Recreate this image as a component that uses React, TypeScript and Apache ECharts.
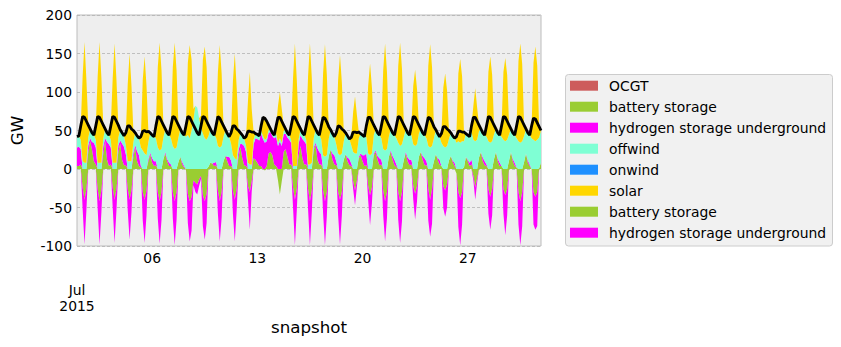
import React, { useEffect, useRef } from 'react';
import * as echarts from 'echarts';

// 3-hourly snapshots (00,03,...,21 UTC), one row per day, July 1..31 2015
const snapshotHours = ['00', '03', '06', '09', '12', '15', '18', '21'];
const xTickDayOffsets = [5, 12, 19, 26];
const xTickLabels = ['06', '13', '20', '27'];
const xStartLabel = 'Jul\n2015';
const yMin = -100;
const yMax = 200;
const yStep = 50;

const ocgt = [
  [0,0,0,0,0,0,0,0],[0,0,0,0,0,0,0,0],[0,0,0,0,0,0,0,0],[0,0,0,0,0,0,0,0],[0,0,0,0,0,0,0,0],
  [0,0,0,0,0,0,0,0],[0,0,0,0,0,0,0,0],[0,0,0,0,0,0,0,0],[0,0,0,0,0,0,0,0],[0,0,0,0,0,0,0,0],
  [0,0,0,0,0,0,0,0],[0,0,0,0,0,0,0,0],[0,0,0,0,0,0,0,0],[0,0,0,0,0,0,0,0],[0,0,0,0,0,0,0,0],
  [0,0,0,0,0,0,0,0],[0,0,0,0,0,0,0,0],[0,0,0,0,0,0,0,0],[0,0,0,0,0,0,0,0],[0,0,0,0,0,0,0,0],
  [0,0,0,0,0,0,0,0],[0,0,0,0,0,0,0,0],[0,0,0,0,0,0,0,0],[0,0,0,0,0,0,0,0],[0,0,0,0,0,0,0,0],
  [0,0,0,0,0,0,0,0],[0,0,0,0,0,0,0,0],[0,0,0,0,0,0,0,0],[0,0,0,0,0,0,0,0],[0,0,0,0,0,0,0,0],
  [0,0,0,0,0,0,0,0],
];

const batteryDischarge = [
  [4,4,6,0,0,0,22,36],[25,10,6,0,0,0,20,36],[12,4,6,0,0,0,22,33],[12,5,5,0,0,0,15,28],[10,4,2,0,0,0,10,19],
  [8,4,5,0,0,0,13,20],[10,4,4,0,0,0,9,16],[6,2,0,0,0,0,0,0],[0,0,0,0,0,0,3,8],[7,4,5,0,0,0,10,17],
  [10,4,4,0,0,0,16,28],[14,5,4,0,0,0,14,12],[8,4,4,0,0,4,20,22],[18,6,4,0,0,0,22,26],[16,6,6,0,0,0,18,30],
  [14,6,6,0,0,0,24,32],[12,6,6,0,0,0,17,25],[12,6,5,0,0,0,12,19],[10,5,4,0,0,0,14,18],[10,4,5,0,0,0,18,22],
  [12,5,6,0,0,0,16,22],[12,5,3,0,0,0,12,20],[10,5,6,0,0,0,16,22],[12,5,5,0,0,0,10,19],[12,6,4,0,0,0,11,17],
  [9,4,0,0,0,0,2,16],[10,4,6,0,0,0,15,22],[10,5,4,0,0,0,13,22],[10,4,4,0,0,0,11,22],[10,4,2,0,0,0,9,20],
  [8,4,0,0,0,0,1,8],
];

const hydrogenDischarge = [
  [24,25,20,0,0,0,9,4],[10,24,22,0,0,0,10,4],[23,28,22,0,0,0,9,4],[21,24,14,0,0,0,6,3],[13,14,2,0,0,0,3,2],
  [6,6,5,0,0,0,0,2],[3,4,2,0,0,0,0,0],[3,2,0,0,0,0,0,0],[0,0,0,0,0,0,0,0],[0,4,4,0,0,0,0,0],
  [6,12,7,0,0,0,9,5],[18,25,18,0,0,0,18,28],[31,33,42,39,34,32,27,26],[25,34,38,30,36,30,23,20],[25,32,28,0,0,0,15,14],
  [25,30,26,0,0,0,4,2],[15,16,13,0,0,0,0,0],[8,12,5,0,0,0,0,0],[5,8,3,0,0,0,2,2],[8,14,15,0,0,0,2,2],
  [5,9,6,0,0,0,0,2],[5,7,3,0,0,0,0,2],[5,7,6,0,0,0,0,0],[5,9,5,0,0,0,0,0],[2,6,0,0,0,0,0,0],
  [2,4,0,0,0,0,0,0],[2,4,6,0,0,0,0,0],[5,5,2,0,0,0,0,0],[3,4,0,0,0,0,0,0],[3,4,0,0,0,0,0,0],
  [3,2,0,0,0,0,0,0],
];

const offwind = [
  [14,14,12,10,8,8,10,12],[12,10,10,8,8,8,10,12],[12,12,10,8,8,8,10,14],[14,14,12,10,10,10,14,16],[20,22,24,24,20,18,22,26],
  [30,32,30,28,24,26,28,30],[34,36,34,30,26,28,32,36],[38,40,42,44,40,50,64,82],[80,66,54,46,40,38,40,44],[40,36,32,30,28,30,32,34],
  [30,26,22,18,14,12,12,14],[12,10,8,8,6,6,6,6],[6,6,4,4,4,4,4,4],[4,4,4,4,4,4,4,6],[6,6,4,4,4,4,6,8],
  [8,8,6,6,6,8,12,18],[20,22,20,18,16,18,22,26],[26,24,22,20,18,20,24,28],[28,26,24,22,20,20,24,26],[26,24,22,20,18,20,24,28],
  [30,30,28,26,24,26,26,28],[30,32,34,34,30,32,30,30],[32,32,32,32,30,32,30,30],[30,30,30,30,28,30,30,32],[32,30,30,30,28,30,28,30],
  [32,32,34,36,34,36,34,30],[32,34,36,38,36,38,34,30],[32,34,36,36,34,36,32,30],[34,36,38,38,36,38,34,30],[34,36,38,36,34,36,34,32],
  [36,38,40,38,36,38,40,42],
];

const onwind = [
  [0,0,0,0,0,0,0,0],[0,0,0,0,0,0,0,0],[0,0,0,0,0,0,0,0],[0,0,0,0,0,0,0,0],[0,0,0,0,0,0,0,0],
  [0,0,0,0,0,0,0,0],[0,0,0,0,0,0,0,0],[0,0,0,0,0,0,0,0],[0,0,0,0,0,0,0,0],[0,0,0,0,0,0,0,0],
  [0,0,0,0,0,0,0,0],[0,0,0,0,0,0,0,0],[0,0,0,0,0,0,0,0],[0,0,0,0,0,0,0,0],[0,0,0,0,0,0,0,0],
  [0,0,0,0,0,0,0,0],[0,0,0,0,0,0,0,0],[0,0,0,0,0,0,0,0],[0,0,0,0,0,0,0,0],[0,0,0,0,0,0,0,0],
  [0,0,0,0,0,0,0,0],[0,0,0,0,0,0,0,0],[0,0,0,0,0,0,0,0],[0,0,0,0,0,0,0,0],[0,0,0,0,0,0,0,0],
  [0,0,0,0,0,0,0,0],[0,0,0,0,0,0,0,0],[0,0,0,0,0,0,0,0],[0,0,0,0,0,0,0,0],[0,0,0,0,0,0,0,0],
  [0,0,0,0,0,0,0,0],
];

const solar = [
  [0,0,18,110,157,108,16,0],[0,0,18,112,157,110,17,0],[0,0,18,110,155,108,16,0],[0,0,16,100,140,98,15,0],[0,0,14,92,126,90,14,0],
  [0,0,16,104,140,102,16,0],[0,0,16,102,138,100,16,0],[0,0,15,94,121,92,14,0],[0,0,15,96,119,94,14,0],[0,0,15,96,133,94,14,0],
  [0,0,14,96,136,94,13,0],[0,0,12,80,120,72,10,0],[0,0,6,24,30,22,6,0],[0,0,10,48,60,44,8,0],[0,0,18,114,159,112,18,0],
  [0,0,18,114,157,110,17,0],[0,0,17,106,146,104,16,0],[0,0,15,96,130,92,14,0],[0,0,10,52,74,50,8,0],[0,0,14,88,119,86,13,0],
  [0,0,16,102,139,100,15,0],[0,0,16,100,134,98,15,0],[0,0,12,76,99,72,11,0],[0,0,16,104,134,102,15,0],[0,0,12,76,96,72,11,0],
  [0,0,14,88,109,84,12,0],[0,0,8,44,69,42,8,0],[0,0,14,90,112,86,12,0],[0,0,14,88,108,84,12,0],[0,0,16,104,129,100,14,0],
  [0,0,16,100,123,96,14,0],
];

const batteryCharge = [
  [0,0,0,-24,-40,-26,0,0],[0,0,0,-26,-42,-28,0,0],[0,0,0,-24,-40,-26,0,0],[0,0,0,-26,-40,-28,0,0],[0,0,0,-30,-40,-28,0,0],
  [0,0,0,-30,-42,-30,0,0],[0,0,0,-30,-42,-30,0,0],[0,0,-1,-32,-42,-36,-15,-18],[-20,-14,-9,-34,-42,-32,0,0],[0,0,0,-28,-42,-30,0,0],
  [0,0,0,-28,-40,-26,0,0],[0,0,0,-22,-30,-16,0,0],[0,0,0,0,-2,0,0,0],[0,0,0,-15,-33,-16,0,0],[0,0,0,-24,-40,-26,0,0],
  [0,0,0,-26,-42,-28,0,0],[0,0,0,-28,-42,-30,0,0],[0,0,0,-30,-40,-30,0,0],[0,0,0,-16,-28,-15,0,0],[0,0,0,-22,-34,-24,0,0],
  [0,0,0,-28,-42,-30,0,0],[0,0,0,-30,-42,-30,0,0],[0,0,0,-22,-32,-22,0,0],[0,0,0,-26,-40,-26,0,0],[0,0,0,-22,-28,-20,0,0],
  [0,0,-6,-30,-38,-30,0,0],[0,0,0,-9,-24,-12,0,0],[0,0,0,-26,-36,-26,0,0],[0,0,0,-26,-34,-26,0,0],[0,0,0,-30,-42,-30,0,0],
  [0,0,0,-30,-36,-30,0,0],
];

const hydrogenCharge = [
  [0,0,0,-28,-58,-28,0,0],[0,0,0,-26,-56,-28,0,0],[0,0,0,-26,-56,-28,0,0],[0,0,0,-28,-52,-28,0,0],[0,0,0,-37,-56,-32,0,0],
  [0,0,0,-34,-55,-36,0,0],[0,0,0,-34,-57,-36,0,0],[0,0,0,-38,-52,-44,-6,-12],[-13,-8,-4,-40,-50,-38,0,0],[0,0,0,-30,-52,-33,0,0],
  [0,0,0,-30,-54,-28,0,0],[0,0,0,-17,-49,-14,0,0],[0,0,0,0,0,0,0,0],[0,0,0,0,0,0,0,0],[0,0,0,-26,-59,-28,0,0],
  [0,0,0,-26,-57,-28,0,0],[0,0,0,-29,-57,-31,0,0],[0,0,0,-30,-58,-30,0,0],[0,0,0,-10,-19,-8,0,0],[0,0,0,-19,-39,-20,0,0],
  [0,0,0,-32,-52,-34,0,0],[0,0,0,-36,-54,-38,0,0],[0,0,0,-18,-34,-20,0,0],[0,0,0,-41,-48,-45,0,0],[0,0,0,-29,-34,-30,0,0],
  [0,0,0,-45,-61,-42,0,0],[0,0,0,-6,-16,-6,0,0],[0,0,0,-32,-43,-34,0,0],[0,0,0,-32,-52,-34,0,0],[0,0,0,-42,-57,-44,0,0],
  [0,0,0,-42,-43,-44,0,0],
];

const load = [
  [42,43,56,68,67,62,57,52],[47,44,56,68,67,62,57,52],[47,44,56,68,67,62,57,51],[47,43,47,56,56,52,50,47],[43,40,42,49,50,48,49,47],
  [44,42,56,68,67,62,57,52],[47,44,56,68,67,62,57,52],[47,44,56,68,67,62,57,52],[47,44,56,68,67,62,57,52],[47,44,56,68,66,61,56,51],
  [46,42,47,56,56,52,50,47],[44,40,42,49,49,48,48,46],[45,43,56,67,66,62,57,52],[47,44,56,67,67,62,57,52],[47,44,56,68,67,62,57,52],
  [47,44,56,68,67,62,57,52],[47,44,56,67,66,61,55,51],[46,42,47,56,55,52,50,47],[43,39,41,48,48,47,48,46],[44,42,56,67,67,62,57,52],
  [47,44,56,68,67,62,57,52],[47,44,56,68,67,62,57,52],[47,44,56,68,67,62,57,52],[47,44,56,67,66,61,55,51],[46,42,46,55,55,52,50,47],
  [43,40,42,49,49,48,48,46],[44,42,56,67,67,62,57,52],[47,44,56,68,67,62,57,52],[47,44,56,68,67,62,57,52],[47,44,56,68,67,62,57,52],
  [47,44,56,66,65,60,55,50],
];

const legendNames = [
  'OCGT', 'battery storage', 'hydrogen storage underground', 'offwind',
  'onwind', 'solar', 'battery storage', 'hydrogen storage underground',
];
const legendColors = ['#cd5c5c', '#9acd32', '#ff00ff', '#7fffd4', '#1e90ff', '#ffd700', '#9acd32', '#ff00ff'];

const FONT = 'DejaVu Sans';
const perDay = snapshotHours.length;

export default function App() {
  const ref = useRef<HTMLDivElement>(null);
  useEffect(() => {
    document.body.style.margin = '0';
    const chart = echarts.init(ref.current!, null, { renderer: 'svg' });

    const snapshots: string[] = [];
    load.forEach((_row, d) => {
      snapshotHours.forEach((h) => {
        snapshots.push(`2015-07-${String(d + 1).padStart(2, '0')} ${h}:00`);
      });
    });

    const area = (name: string, rows: number[][], color: string, stack: string) => ({
      name,
      type: 'line',
      stack,
      stackStrategy: 'all',
      data: rows.flat(),
      symbol: 'none',
      showSymbol: false,
      lineStyle: { width: 0 },
      areaStyle: { color, opacity: 1 },
      itemStyle: { color },
      silent: true,
    });

    const legendGraphics: any[] = [
      {
        type: 'rect',
        shape: { x: 565.5, y: 74.5, width: 267, height: 171.5, r: 3 },
        style: { fill: '#f1f1f1', stroke: '#cccccc', lineWidth: 1 },
        z: 100,
      },
    ];
    legendNames.forEach((name, i) => {
      const cy = 85.7 + 21 * i;
      legendGraphics.push({
        type: 'rect',
        shape: { x: 570, y: cy - 5, width: 28, height: 10 },
        style: { fill: legendColors[i] },
        z: 101,
      });
      legendGraphics.push({
        type: 'text',
        x: 609,
        y: cy,
        style: { text: name, fill: '#000', font: `13.9px "${FONT}"`, verticalAlign: 'middle', align: 'left' },
        z: 101,
      });
    });

    chart.setOption({
      animation: false,
      backgroundColor: '#ffffff',
      textStyle: { fontFamily: FONT },
      grid: {
        left: 76, top: 15, width: 465, height: 231,
        show: true, backgroundColor: '#eeeeee', borderColor: '#bcbcbc', borderWidth: 1,
        containLabel: false,
      },
      xAxis: {
        type: 'category',
        data: snapshots,
        boundaryGap: false,
        name: 'snapshot',
        nameLocation: 'middle',
        nameGap: 72,
        nameTextStyle: { fontSize: 16.7, color: '#000', fontFamily: FONT },
        axisLine: { show: false },
        axisTick: {
          show: true, inside: true, length: 3,
          interval: (index: number) => index % perDay === 0,
          lineStyle: { color: '#000', width: 1 },
        },
        splitLine: { show: false },
        axisLabel: {
          show: true,
          margin: 4,
          fontSize: 13.9,
          lineHeight: 16,
          color: '#000',
          fontFamily: FONT,
          interval: (index: number) =>
            index === 0 || xTickDayOffsets.includes(index / perDay),
          formatter: (_v: string, index: number) => {
            if (index === 0) return '\n\n' + xStartLabel;
            const k = xTickDayOffsets.indexOf(index / perDay);
            return k >= 0 ? xTickLabels[k] : '';
          },
        },
      },
      yAxis: {
        type: 'value',
        min: yMin,
        max: yMax,
        interval: yStep,
        name: 'GW',
        nameLocation: 'middle',
        nameGap: 52,
        nameTextStyle: { fontSize: 16.7, color: '#000', fontFamily: FONT },
        axisLine: { show: false },
        axisTick: { show: false },
        axisLabel: { margin: 5, fontSize: 13.9, color: '#000', fontFamily: FONT },
        splitLine: { show: true, lineStyle: { color: '#b2b2b2', type: [3, 2], width: 0.8 } },
      },
      series: [
        area('OCGT', ocgt, legendColors[0], 'pos'),
        area('battery storage', batteryDischarge, legendColors[1], 'pos'),
        area('hydrogen storage underground', hydrogenDischarge, legendColors[2], 'pos'),
        area('offwind', offwind, legendColors[3], 'pos'),
        area('onwind', onwind, legendColors[4], 'pos'),
        area('solar', solar, legendColors[5], 'pos'),
        area('battery storage', batteryCharge, legendColors[6], 'neg'),
        area('hydrogen storage underground', hydrogenCharge, legendColors[7], 'neg'),
        {
          name: 'load',
          type: 'line',
          data: load.flat(),
          symbol: 'none',
          showSymbol: false,
          lineStyle: { color: '#000', width: 2.8 },
          silent: true,
          z: 5,
        },
      ],
      graphic: legendGraphics,
    });
    return () => chart.dispose();
  }, []);
  return <div ref={ref} style={{ position: 'absolute', left: 0, top: 0, width: 841, height: 347 }} />;
}
